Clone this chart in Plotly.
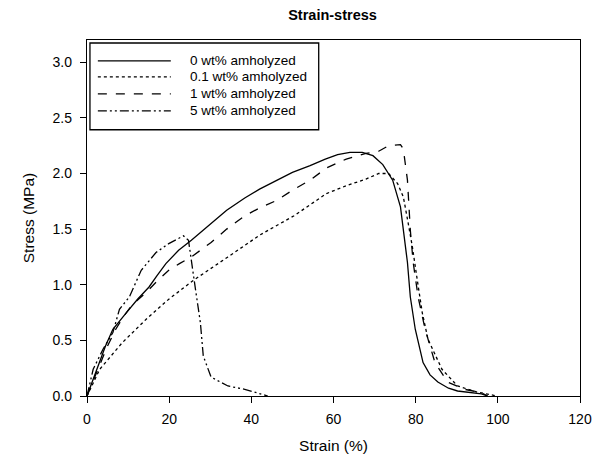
import plotly.graph_objects as go

# ---- data ----
series_names = ["0 wt% amholyzed", "0.1 wt% amholyzed", "1 wt% amholyzed", "5 wt% amholyzed"]

strain_0 = [0, 1.5, 3.1, 4.5, 6.3, 8, 9.6, 12.3, 15.1, 17, 19.2, 22.3, 25.4, 30.2, 34, 38.4, 42, 46.3, 50,
            54.3, 58, 61, 64, 67, 69.6, 72, 74.4, 76.3, 77, 78, 78.7, 79.9, 81.8, 83.5, 85.4, 88, 90.2, 93, 96, 97.5]
stress_0 = [0, 0.15, 0.30, 0.45, 0.60, 0.68, 0.75, 0.87, 0.98, 1.08, 1.19, 1.31, 1.40, 1.55, 1.67, 1.78, 1.86,
            1.94, 2.01, 2.07, 2.13, 2.17, 2.19, 2.19, 2.16, 2.08, 1.94, 1.70, 1.49, 1.2, 0.89, 0.6, 0.30, 0.19,
            0.125, 0.07, 0.045, 0.03, 0.02, 0]

strain_01 = [0, 3.1, 8.6, 14.4, 19.9, 25.9, 34.3, 42.2, 50.4, 58.3, 63.1, 67.9, 71, 73.4, 75.6, 77, 78.2,
             79.2, 80.4, 81.6, 83, 86.4, 90.2, 95, 99.8]
stress_01 = [0, 0.24, 0.48, 0.69, 0.87, 1.04, 1.25, 1.45, 1.62, 1.82, 1.89, 1.95, 2.0, 2.0, 1.91, 1.79, 1.55,
             1.34, 1.04, 0.75, 0.51, 0.24, 0.09, 0.035, 0]

strain_1 = [0, 1.5, 3, 5, 7, 9, 11, 12.5, 14.4, 17, 19.9, 22.5, 25.4, 30.2, 34, 38.4, 42, 46.3, 50, 54.3,
            58.3, 63.1, 67.9, 71, 73.4, 76.3, 77, 78, 78.7, 79.4, 80.6, 82.3, 84.7, 87.8, 91.9, 96, 97.5]
stress_1 = [0, 0.13, 0.27, 0.45, 0.6, 0.72, 0.82, 0.87, 0.93, 1.03, 1.13, 1.19, 1.25, 1.38, 1.50, 1.62, 1.69,
            1.76, 1.85, 1.94, 2.05, 2.13, 2.18, 2.2, 2.25, 2.26, 2.22, 1.94, 1.49, 1.2, 0.89, 0.6, 0.30, 0.125,
            0.06, 0.03, 0]

strain_5 = [0, 1.5, 3.9, 6.3, 7.9, 10.3, 13.2, 16.8, 19.9, 22.3, 23.5, 24.7, 25.4, 26.4, 27.6, 28.3, 30.2,
            34.3, 38.4, 42, 44]
stress_5 = [0, 0.24, 0.42, 0.57, 0.78, 0.89, 1.13, 1.29, 1.37, 1.42, 1.44, 1.40, 1.20, 0.96, 0.66, 0.36, 0.17,
            0.09, 0.06, 0.02, 0]

x_ticks = [0, 20, 40, 60, 80, 100, 120]
y_ticks = [0.0, 0.5, 1.0, 1.5, 2.0, 2.5, 3.0]

# ---- styling ----
dashes = ["solid", "dot", "dash", "9px,3px,2px,3px,2px,3px"]
xs = [strain_0, strain_01, strain_1, strain_5]
ys = [stress_0, stress_01, stress_1, stress_5]
FONT = "Liberation Sans, Arial, sans-serif"

fig = go.Figure()
for name, x, y, d in zip(series_names, xs, ys, dashes):
    fig.add_trace(go.Scatter(x=x, y=y, mode="lines", name=name,
                             line=dict(color="black", width=1.3, dash=d), showlegend=False))

L, R, T, B = 87, 17, 40, 67
W, H = 604, 464
pw, ph = W - L - R, H - T - B


def px(xp):
    return (xp - L) / pw


def py(yp):
    return (H - B - yp) / ph


# manual legend (box, line samples, labels)
shapes = [dict(type="rect", xref="paper", yref="paper", x0=px(90), x1=px(322), y0=py(130), y1=py(43),
               line=dict(color="black", width=1.3), fillcolor="white", layer="above")]
annotations = []
rows = [61, 77, 94, 111]
for name, d, r in zip(series_names, dashes, rows):
    shapes.append(dict(type="line", xref="paper", yref="paper", x0=px(98), x1=px(172), y0=py(r), y1=py(r),
                       line=dict(color="black", width=1.3, dash=d), layer="above"))
    annotations.append(dict(xref="paper", yref="paper", x=px(189), y=py(r), text=name, showarrow=False,
                            xanchor="left", yanchor="middle", font=dict(family=FONT, size=13.5, color="black")))

fig.update_layout(
    width=W, height=H,
    margin=dict(l=L, r=R, t=T, b=B),
    paper_bgcolor="white", plot_bgcolor="white",
    title=dict(text="<b>Strain-stress</b>", xref="paper", x=px(336), xanchor="center",
               yref="container", y=1 - 15 / H, yanchor="middle",
               font=dict(family=FONT, size=14.5, color="black")),
    font=dict(family=FONT, size=14, color="black"),
    shapes=shapes, annotations=annotations,
    showlegend=False,
)
fig.update_xaxes(range=[0, 120], tickvals=x_ticks, ticktext=[str(v) for v in x_ticks],
                 showline=True, linecolor="black", linewidth=1.3, mirror=True,
                 ticks="outside", ticklen=6, tickcolor="black", tickwidth=1.3,
                 ticklabelstandoff=4,
                 showgrid=False, zeroline=False,
                 title=dict(text="Strain (%)", standoff=14, font=dict(size=15.5)))
fig.update_yaxes(range=[0, 3.2], tickvals=y_ticks, ticktext=[f"{v:.1f}" for v in y_ticks],
                 showline=True, linecolor="black", linewidth=1.3, mirror=True,
                 ticks="outside", ticklen=6, tickcolor="black", tickwidth=1.3,
                 ticklabelstandoff=5,
                 showgrid=False, zeroline=False,
                 title=dict(text="Stress (MPa)", standoff=14, font=dict(size=15.5)))

fig.write_html("out.html")
